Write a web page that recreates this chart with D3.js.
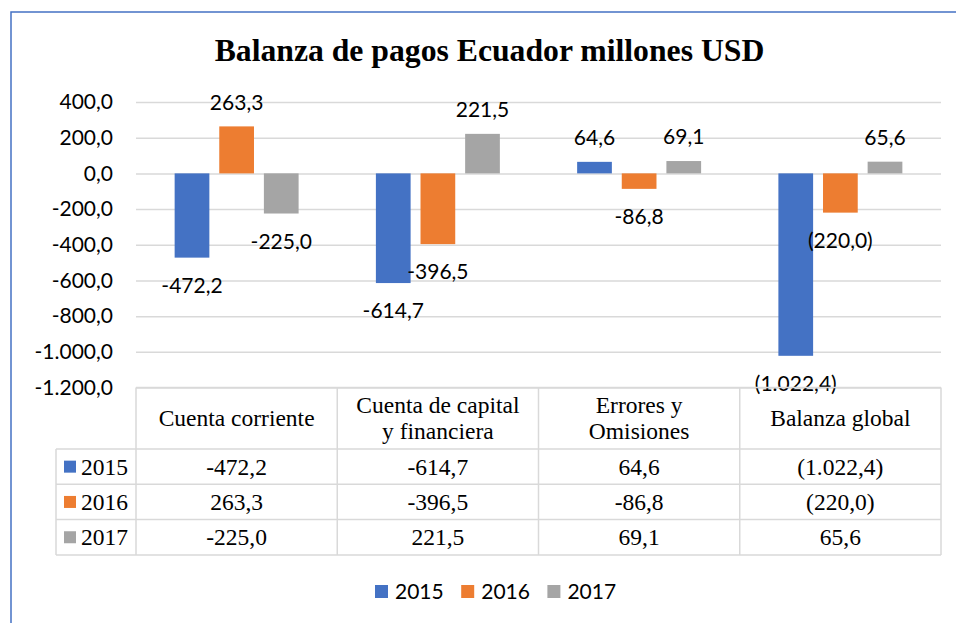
<!DOCTYPE html>
<html>
<head>
<meta charset="utf-8">
<script src="https://cdn.jsdelivr.net/npm/d3@7"></script>
<style>
  body { margin: 0; background: #fff; }
  svg { display: block; }
</style>
</head>
<body>
<svg id="drawing_region"></svg>
<script>
const categories = ["Cuenta corriente", "Cuenta de capital y financiera", "Errores y Omisiones", "Balanza global"];
const categoryLines = [["Cuenta corriente"], ["Cuenta de capital", "y financiera"], ["Errores y", "Omisiones"], ["Balanza global"]];
const years = ["2015", "2016", "2017"];
const values2015 = [-472.2, -614.7, 64.6, -1022.4];
const values2016 = [263.3, -396.5, -86.8, -220.0];
const values2017 = [-225.0, 221.5, 69.1, 65.6];
const yTicks = [400, 200, 0, -200, -400, -600, -800, -1000, -1200];
// these columns show negatives as (x) in the source
const accountingCategories = ["Balanza global"];

const title = "Balanza de pagos Ecuador millones USD";

const series = [values2015, values2016, values2017];

var config = {
  parent: '#drawing_region',
  width: 956,
  height: 623,
  plot: {left: 136, right: 941, top: 102, bottom: 387.5},
  colors: ['#4472c4', '#ed7d31', '#a5a5a5'],
  sans: 'Lato, "Liberation Sans", sans-serif',
  serif: '"Liberation Serif", "Times New Roman", serif'
};

const locale = d3.formatLocale({decimal: ",", thousands: ".", grouping: [3], currency: ["", ""], minus: "-"});
const fmt = locale.format(",.1f");
function fmtValue(v, cat) {
  if (accountingCategories.includes(cat) && v < 0) return "(" + fmt(-v) + ")";
  return fmt(v);
}

class BarTable {
  constructor(config) {
    this.config = config;
    this.init();
  }

  init() {
    let self = this;
    const c = self.config;

    self.svg = d3.select(c.parent)
        .attr('width', c.width)
        .attr('height', c.height);

    // chart frame (cut off at right / bottom like the screenshot)
    self.svg.append('rect')
        .attr('x', 11).attr('y', 12)
        .attr('width', 1000).attr('height', 700)
        .attr('fill', 'none')
        .attr('stroke', '#4472c4')
        .attr('stroke-width', 1.5);

    self.svg.append('text')
        .attr('x', 489.5).attr('y', 61)
        .attr('text-anchor', 'middle')
        .attr('font-family', c.serif)
        .attr('font-weight', 'bold')
        .attr('font-size', '31.7px')
        .text(title);

    self.xscale = d3.scaleBand()
        .domain(categories)
        .range([c.plot.left, c.plot.right])
        .paddingInner(0.384)
        .paddingOuter(0.192);

    self.xinner = d3.scaleBand()
        .domain(years)
        .range([0, self.xscale.bandwidth()])
        .paddingInner(0.222);

    self.yscale = d3.scaleLinear()
        .domain([-1200, 400])
        .range([c.plot.bottom, c.plot.top]);

    self.yaxis = d3.axisLeft(self.yscale)
        .tickValues(yTicks)
        .tickFormat(fmt)
        .tickSizeInner(-(c.plot.right - c.plot.left))
        .tickSizeOuter(0)
        .tickPadding(23);
  }

  render() {
    let self = this;
    const c = self.config;

    const ag = self.svg.append('g')
        .attr('transform', `translate(${c.plot.left},0)`)
        .call(self.yaxis);
    ag.select('.domain').remove();
    ag.selectAll('line').attr('stroke', '#d9d9d9').attr('stroke-width', 1.5);
    ag.selectAll('text')
        .attr('font-family', c.sans)
        .attr('font-size', '21px')
        .attr('fill', '#000');

    const groups = self.svg.selectAll('.cat')
        .data(categories)
        .enter()
        .append('g')
        .attr('class', 'cat')
        .attr('transform', d => `translate(${self.xscale(d)},0)`);

    const rows = (d, i) => years.map((y, j) => ({cat: d, year: y, s: j, v: series[j][i]}));

    groups.selectAll('rect')
        .data(rows)
        .enter()
        .append('rect')
        .attr('x', d => self.xinner(d.year))
        .attr('y', d => self.yscale(Math.max(0, d.v)))
        .attr('width', self.xinner.bandwidth())
        .attr('height', d => Math.abs(self.yscale(d.v) - self.yscale(0)))
        .attr('fill', d => c.colors[d.s]);

    groups.selectAll('.lbl')
        .data(rows)
        .enter()
        .append('text')
        .attr('class', 'lbl')
        .attr('x', d => self.xinner(d.year) + self.xinner.bandwidth() / 2)
        .attr('y', d => d.v >= 0 ? self.yscale(d.v) - 24 : self.yscale(d.v) + 28)
        .attr('dy', '0.35em')
        .attr('text-anchor', 'middle')
        .attr('font-family', c.sans)
        .attr('font-size', '21px')
        .attr('fill', '#000')
        .text(d => fmtValue(d.v, d.cat));

    self.renderTable();
    self.renderLegend();
  }

  renderTable() {
    let self = this;
    const c = self.config;
    const top = c.plot.bottom;
    const headH = 61.5;
    const rowH = 35.3;
    const left = 56;
    const rowTop = top + headH;
    const bottom = rowTop + rowH * years.length;
    // column edges are the band steps starting at the plot left
    const edges = d3.range(categories.length + 1).map(i => c.plot.left + i * self.xscale.step());

    const t = self.svg.append('g');
    const line = (x1, y1, x2, y2) => t.append('line')
        .attr('x1', x1).attr('y1', y1).attr('x2', x2).attr('y2', y2)
        .attr('stroke', '#d9d9d9').attr('stroke-width', 1.5);

    line(c.plot.left, top, c.plot.right, top);
    for (let k = 0; k <= years.length; k++) line(left, rowTop + k * rowH, c.plot.right, rowTop + k * rowH);
    line(left, rowTop, left, bottom);
    edges.forEach(x => line(x, top, x, bottom));

    // header
    categories.forEach((cat, i) => {
      const cx = self.xscale(cat) + self.xscale.bandwidth() / 2;
      const lines = categoryLines[i];
      const cy = top + headH / 2;
      lines.forEach((ln, k) => {
        t.append('text')
            .attr('x', cx)
            .attr('y', cy + (k - (lines.length - 1) / 2) * 26 + 8)
            .attr('text-anchor', 'middle')
            .attr('font-family', c.serif)
            .attr('font-size', '23.5px')
            .attr('fill', '#000')
            .text(ln);
      });
    });

    // rows
    years.forEach((y, j) => {
      const cy = rowTop + j * rowH + rowH / 2;
      t.append('rect')
          .attr('x', 64).attr('y', cy - 6)
          .attr('width', 12).attr('height', 12)
          .attr('fill', c.colors[j]);
      t.append('text')
          .attr('x', 81).attr('y', cy + 8)
          .attr('font-family', c.serif)
          .attr('font-size', '23.5px')
          .attr('fill', '#000')
          .text(y);
      categories.forEach((cat, i) => {
        t.append('text')
            .attr('x', self.xscale(cat) + self.xscale.bandwidth() / 2)
            .attr('y', cy + 8)
            .attr('text-anchor', 'middle')
            .attr('font-family', c.serif)
            .attr('font-size', '23.5px')
            .attr('fill', '#000')
            .text(fmtValue(series[j][i], cat));
      });
    });
  }

  renderLegend() {
    let self = this;
    const c = self.config;
    const lg = self.svg.append('g')
        .attr('transform', 'translate(375,591.5)');
    const items = lg.selectAll('g')
        .data(years)
        .enter()
        .append('g')
        .attr('transform', (d, i) => `translate(${i * 86.2},0)`);
    items.append('rect')
        .attr('x', 0).attr('y', -6.5)
        .attr('width', 13).attr('height', 13)
        .attr('fill', (d, i) => c.colors[i]);
    items.append('text')
        .attr('x', 20).attr('dy', '0.35em')
        .attr('font-family', c.sans)
        .attr('font-size', '21px')
        .attr('fill', '#000')
        .text(d => d);
  }
}

const chart = new BarTable(config);
chart.render();
</script>
</body>
</html>
